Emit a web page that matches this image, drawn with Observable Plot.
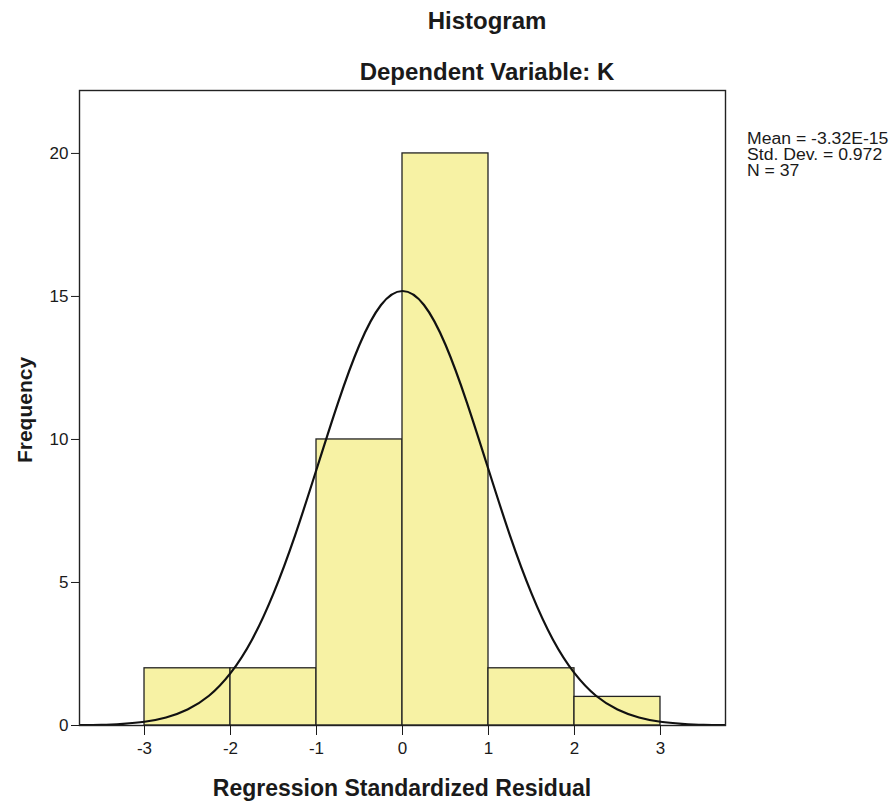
<!DOCTYPE html>
<html><head><meta charset="utf-8">
<script src="https://cdn.jsdelivr.net/npm/d3@7"></script>
<script src="https://cdn.jsdelivr.net/npm/@observablehq/plot@0.6"></script>
<style>
body{margin:0;background:#fff;}
#wrap{position:relative;width:894px;height:808px;font-family:"Liberation Sans",Arial,sans-serif;color:#1a1a1a;overflow:hidden;}
#chart{position:absolute;left:0;top:0;}
.t{position:absolute;font-weight:bold;white-space:nowrap;text-align:center;}
#legend{position:absolute;left:747px;top:131px;font-size:16px;line-height:16px;white-space:nowrap;transform:scaleX(1.1);transform-origin:left top;}
</style></head><body>
<div id="wrap">
<div id="chart"></div>
<div class="t" style="left:337px;width:300px;top:7px;font-size:24px;">Histogram</div>
<div class="t" style="left:287px;width:400px;top:58px;font-size:24px;">Dependent Variable: K</div>
<div id="legend">Mean = -3.32E-15<br>Std. Dev. = 0.972<br>N = 37</div>
<div class="t" style="left:102px;width:600px;top:775px;font-size:23px;">Regression Standardized Residual</div>
<div class="t" style="left:-75px;width:200px;top:398px;font-size:21px;transform:rotate(-90deg);">Frequency</div>
</div>
<script>
// Histogram bins (bin edges and frequencies)
const binStart = [-3, -2, -1, 0, 1, 2];
const binEnd   = [-2, -1, 0, 1, 2, 3];
const freq     = [2, 2, 10, 20, 2, 1];

// Normal curve
const curveX = [-3.75,-3.5,-3.25,-3,-2.75,-2.5,-2.25,-2,-1.75,-1.5,-1.25,-1,-0.75,-0.5,-0.25,0,0.25,0.5,0.75,1,1.25,1.5,1.75,2,2.25,2.5,2.75,3,3.25,3.5,3.75];
const curveY = [0.01,0.02,0.06,0.13,0.28,0.56,1.04,1.83,3.0,4.62,6.64,8.95,11.28,13.31,14.7,15.19,14.7,13.31,11.28,8.95,6.64,4.62,3.0,1.83,1.04,0.56,0.28,0.13,0.06,0.02,0.01];

const xTicks = [-3, -2, -1, 0, 1, 2, 3];
const yTicks = [0, 5, 10, 15, 20];

const bins = binStart.map((s, i) => ({x1: s, x2: binEnd[i], f: freq[i]}));
const curve = curveX.map((x, i) => ({x, y: curveY[i]}));

const plot = Plot.plot({
  width: 894,
  height: 808,
  marginLeft: 79,
  marginRight: 169,
  marginTop: 90,
  marginBottom: 83,
  style: {background: "transparent", fontSize: "17px", fontFamily: "'Liberation Sans', Arial, sans-serif", color: "#1a1a1a"},
  x: {domain: [-3.756, 3.756]},
  y: {domain: [0, 22.2]},
  marks: [
    Plot.rectY(bins, {x1: "x1", x2: "x2", y: "f", fill: "#f7f2a4", stroke: "#222", strokeWidth: 1.3}),
    Plot.line(curve, {x: "x", y: "y", curve: "natural", stroke: "#111", strokeWidth: 2.2, clip: true}),
    Plot.frame({stroke: "#222", strokeWidth: 1.4}),
    Plot.axisY({ticks: yTicks, tickSize: 8, tickPadding: 3, label: null, tickFormat: d => String(d), fontSize: 17}),
    Plot.axisX({ticks: xTicks, tickSize: 10, tickPadding: 6, label: null, tickFormat: d => String(d), fontSize: 17})
  ]
});
document.getElementById("chart").appendChild(plot);
</script>
</body></html>
